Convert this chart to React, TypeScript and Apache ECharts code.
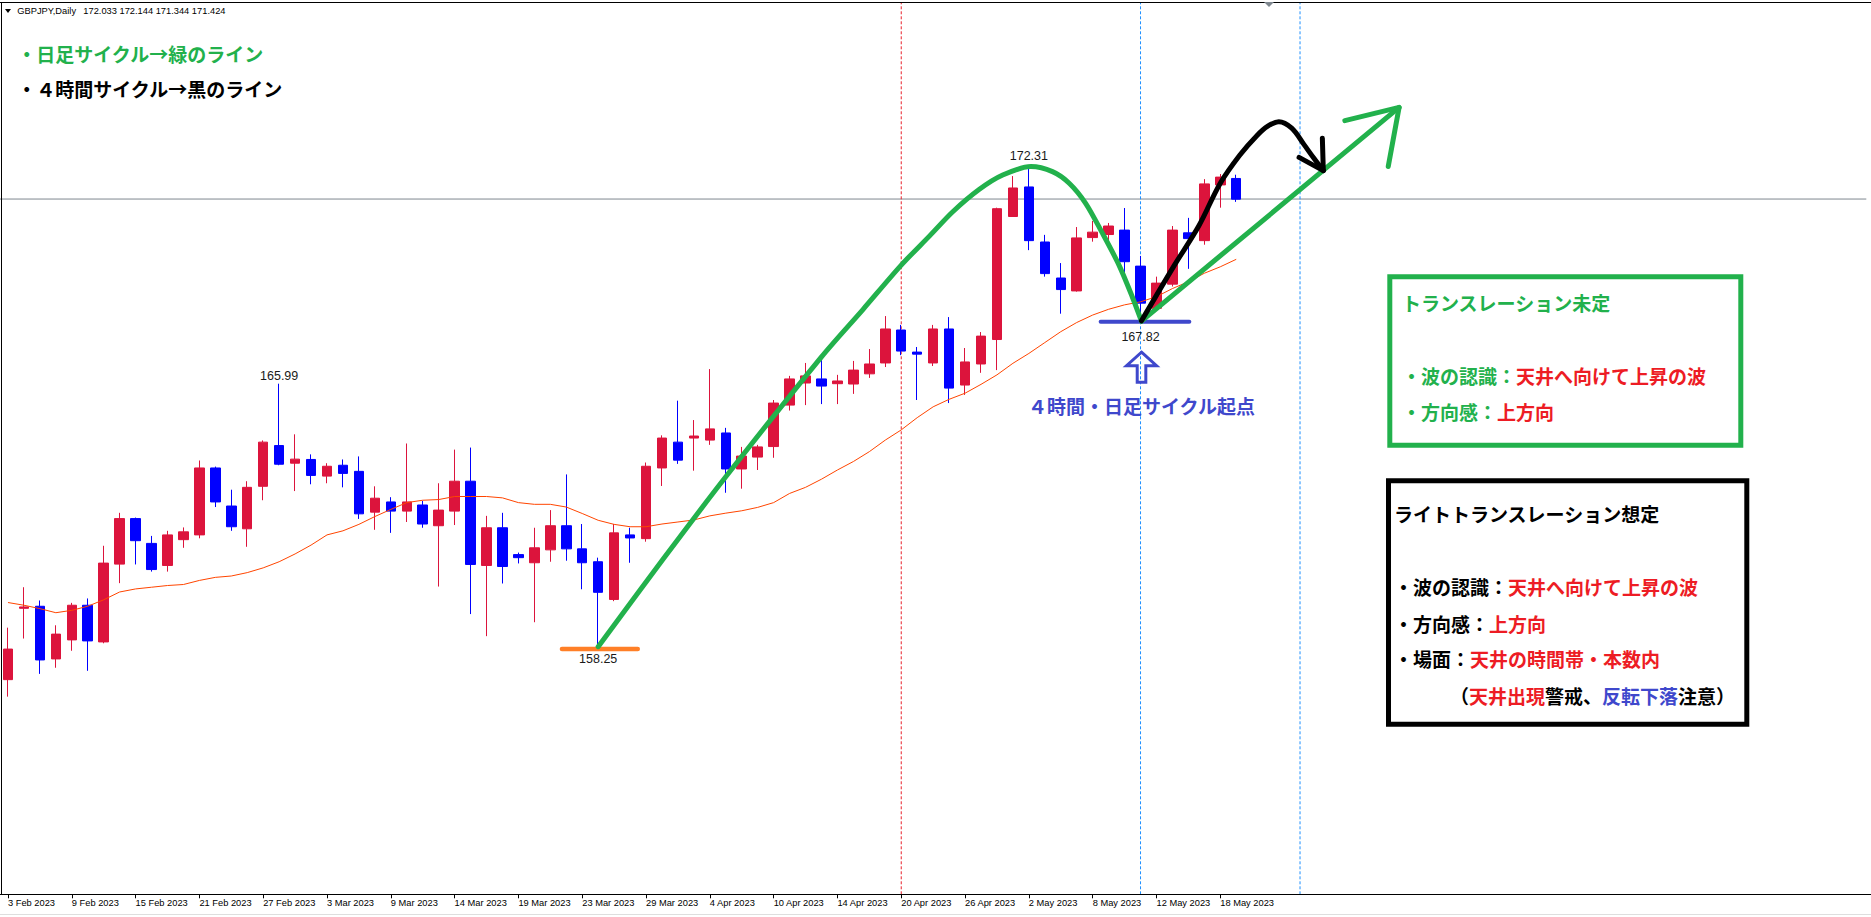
import React, { useEffect, useRef } from "react";
import * as echarts from "echarts";

// ---------- data ----------
const dates = [
  "3 Feb 2023", "6 Feb 2023", "7 Feb 2023", "8 Feb 2023", "9 Feb 2023", "10 Feb 2023", "13 Feb 2023", "14 Feb 2023",
  "15 Feb 2023", "16 Feb 2023", "17 Feb 2023", "20 Feb 2023", "21 Feb 2023", "22 Feb 2023", "23 Feb 2023", "24 Feb 2023",
  "27 Feb 2023", "28 Feb 2023", "1 Mar 2023", "2 Mar 2023", "3 Mar 2023", "6 Mar 2023", "7 Mar 2023", "8 Mar 2023",
  "9 Mar 2023", "10 Mar 2023", "12 Mar 2023", "13 Mar 2023", "14 Mar 2023", "15 Mar 2023", "16 Mar 2023", "17 Mar 2023",
  "19 Mar 2023", "20 Mar 2023", "21 Mar 2023", "22 Mar 2023", "23 Mar 2023", "24 Mar 2023", "27 Mar 2023", "28 Mar 2023",
  "29 Mar 2023", "30 Mar 2023", "31 Mar 2023", "3 Apr 2023", "4 Apr 2023", "5 Apr 2023", "6 Apr 2023", "7 Apr 2023",
  "10 Apr 2023", "11 Apr 2023", "12 Apr 2023", "13 Apr 2023", "14 Apr 2023", "17 Apr 2023", "18 Apr 2023", "19 Apr 2023",
  "20 Apr 2023", "21 Apr 2023", "24 Apr 2023", "25 Apr 2023", "26 Apr 2023", "27 Apr 2023", "28 Apr 2023", "1 May 2023",
  "2 May 2023", "3 May 2023", "4 May 2023", "5 May 2023", "8 May 2023", "9 May 2023", "10 May 2023", "11 May 2023",
  "12 May 2023", "15 May 2023", "16 May 2023", "17 May 2023", "18 May 2023", "19 May 2023",
];

const opens = [
  157.28, 159.38, 159.44, 157.89, 158.45, 159.47, 158.39, 160.68, 162.02, 161.29, 160.64, 161.40, 161.54, 163.51, 162.39, 161.72,
  162.97, 164.17, 163.65, 163.76, 163.27, 163.59, 163.41, 162.21, 162.51, 162.24, 162.42, 161.81, 162.24, 163.12, 160.64, 161.75,
  160.96, 160.72, 161.10, 161.81, 161.13, 160.75, 159.64, 161.54, 161.43, 163.51, 164.27, 164.39, 164.33, 164.54, 163.48, 163.83,
  164.14, 165.36, 166.01, 166.13, 165.99, 165.98, 166.28, 166.60, 167.57, 166.92, 166.60, 167.60, 165.95, 166.57, 167.29, 170.91,
  171.78, 170.16, 169.10, 168.72, 170.29, 170.38, 170.51, 169.45, 168.21, 168.92, 170.43, 170.20, 171.84, 172.03,
];
const highs = [
  158.81, 160.00, 159.61, 158.88, 159.54, 159.67, 161.22, 162.19, 162.05, 161.51, 161.66, 161.76, 163.73, 163.55, 162.87, 163.12,
  164.32, 165.99, 164.50, 163.91, 163.65, 163.76, 163.85, 162.97, 162.65, 164.23, 162.54, 163.06, 164.05, 164.11, 162.10, 162.19,
  161.02, 161.75, 162.27, 163.32, 161.86, 160.87, 161.86, 161.75, 163.67, 164.47, 165.49, 164.92, 166.42, 164.69, 164.13, 164.19,
  165.51, 166.22, 166.60, 166.86, 166.25, 166.66, 167.01, 167.98, 167.72, 167.07, 167.72, 167.95, 167.04, 167.51, 171.17, 172.10,
  172.31, 170.37, 169.54, 170.60, 170.78, 170.72, 171.16, 169.75, 169.14, 170.63, 170.87, 172.01, 172.16, 172.14,
];
const lows = [
  156.78, 158.49, 157.45, 157.63, 158.13, 157.54, 158.35, 160.12, 160.67, 160.46, 160.46, 161.16, 161.44, 162.36, 161.66, 161.19,
  162.56, 163.59, 162.83, 163.03, 163.06, 162.94, 162.01, 161.69, 161.60, 161.92, 161.75, 160.02, 161.83, 159.21, 158.56, 160.11,
  160.70, 158.97, 160.75, 160.78, 159.94, 158.25, 159.59, 160.72, 161.34, 162.98, 163.63, 163.43, 164.19, 162.78, 162.90, 163.45,
  163.81, 165.20, 165.36, 165.39, 165.39, 165.69, 166.16, 166.48, 166.83, 165.51, 166.51, 165.42, 165.66, 166.31, 166.39, 170.91,
  169.92, 169.14, 168.05, 168.70, 170.17, 170.17, 169.14, 167.82, 168.15, 168.85, 169.37, 170.08, 171.17, 171.34,
];
const closes = [
  158.18, 159.42, 157.86, 158.62, 159.47, 158.42, 160.71, 162.02, 161.37, 160.52, 161.54, 161.63, 163.51, 162.51, 161.78, 162.94,
  164.27, 163.62, 163.77, 163.29, 163.56, 163.35, 162.16, 162.62, 162.24, 162.51, 161.86, 162.27, 163.12, 160.67, 161.75, 160.61,
  160.87, 161.16, 161.81, 161.13, 160.72, 159.85, 161.60, 161.45, 163.56, 164.39, 163.74, 164.45, 164.66, 163.48, 163.86, 164.13,
  165.42, 166.13, 166.22, 165.92, 166.07, 166.39, 166.57, 167.60, 166.95, 166.86, 167.60, 165.86, 166.63, 167.39, 171.14, 171.75,
  170.20, 169.23, 168.76, 170.28, 170.45, 170.63, 169.58, 168.36, 168.95, 170.51, 170.26, 171.87, 172.07, 171.42,
];
// orange moving average, read per bar
const movingAverage = [
  159.55, 159.47, 159.37, 159.25, 159.32, 159.44, 159.63, 159.86, 159.95, 160.00, 160.05, 160.08, 160.20, 160.29, 160.33, 160.43,
  160.57, 160.75, 160.98, 161.24, 161.54, 161.66, 161.85, 162.08, 162.29, 162.49, 162.56, 162.58, 162.67, 162.67, 162.67, 162.63,
  162.49, 162.44, 162.44, 162.36, 162.17, 161.97, 161.85, 161.78, 161.78, 161.86, 161.92, 161.98, 162.10, 162.18, 162.25, 162.35,
  162.49, 162.76, 162.94, 163.18, 163.45, 163.70, 163.99, 164.33, 164.63, 164.99, 165.31, 165.53, 165.71, 165.97, 166.25, 166.59,
  166.88, 167.20, 167.52, 167.79, 168.01, 168.18, 168.31, 168.40, 168.55, 168.79, 168.99, 169.24, 169.43, 169.65,
];
const headerSymbol = "GBPJPY,Daily";
const headerValues = ["172.033", "172.144", "171.344", "171.424"];
const lastPrice = 171.424;
const emptyBarsRight = 39;

// marked extremes: bar index, price
const extremeIndex = [17, 37, 64, 71];
const extremePrice = [165.99, 158.25, 172.31, 167.82];
const extremeText = ["165.99", "158.25", "172.31", "167.82"];

// vertical dashed lines (bar index)
const redVLine = 56;
const blueVLines = [71, 81];

// hand-drawn annotation paths, [bar index, price]
const greenCycle: [number, number][] = [
  [37, 158.25], [41.11, 160.85], [45.0, 163.25], [51.0, 166.78], [53.61, 168.18], [56.0, 169.48],
  [57.78, 170.34], [59.23, 171.05], [60.9, 171.71], [62.36, 172.13], [64.13, 172.38], [65.48, 172.23],
  [66.53, 171.89], [67.56, 171.3], [68.61, 170.42], [69.65, 169.48], [70.48, 168.55], [71.06, 167.83],
];
const greenArrowLine: [number, number][] = [[71.06, 167.83], [87.21, 174.12]];
const greenArrowHead: [number, number][] = [[83.81, 173.73], [87.21, 174.12], [86.53, 172.38]];
const blackCycle: [number, number][] = [
  [71.06, 167.84], [73.09, 169.45], [74.65, 170.63], [76.0, 171.89], [77.23, 172.72], [78.29, 173.29],
  [78.98, 173.57], [79.67, 173.7], [80.48, 173.51], [81.23, 173.04], [81.86, 172.63], [82.46, 172.26],
];
const blackArrowHead: [number, number][] = [[82.4, 173.21], [82.46, 172.26], [80.94, 172.65]];
const orangeLowLine: [number, number][] = [[34.73, 158.18], [39.48, 158.18]];
const blueLowLine: [number, number][] = [[68.5, 167.81], [74.06, 167.81]];

// texts
const legendGreen = "・日足サイクル→緑のライン";
const legendBlack = "・４時間サイクル→黒のライン";
const originText = "４時間・日足サイクル起点";

// ---------- styles ----------
const GREEN = "#22B14C";
const RED = "#ED1C24";
const INDIGO = "#3F48CC";
const ORANGE = "#FF7F27";
const BULL = "#DC143C";
const BEAR = "#0000FF";
const MA_COLOR = "#FF4500";
const PRICE_LINE = "#7F878F";
const CJK = "'Noto Sans CJK JP', sans-serif";
const LATIN = "'Liberation Sans', Arial, sans-serif";

export default function App() {
  const ref = useRef<HTMLDivElement>(null);

  useEffect(() => {
    const el = ref.current;
    if (!el) return;
    const chart = echarts.init(el, undefined, { renderer: "svg" });
    const n = dates.length;
    const categories = dates.concat(Array.from({ length: emptyBarsRight }, (_, k) => "slot" + (k + 1)));
    const total = categories.length;
    const showIdx = (i: number) => i < n && i % 4 === 0;
    const yMin = 150.963;
    const yMax = 177.223;

    const lineSeries = (data: any, color: string, width: number, z: number, extra: any = {}) => ({
      type: "line",
      xAxisIndex: 1,
      yAxisIndex: 0,
      data,
      symbol: "none",
      silent: true,
      z,
      lineStyle: { color, width, cap: "round", join: "round", ...(extra.lineStyle || {}) },
      smooth: extra.smooth || false,
    });

    chart.setOption({
      animation: false,
      backgroundColor: "#ffffff",
      grid: { left: -5.7, right: 4.7, top: 2, bottom: 22.7, containLabel: false },
      xAxis: [
        {
          type: "category",
          data: categories,
          boundaryGap: true,
          position: "bottom",
          axisLine: { show: false },
          axisTick: {
            show: true,
            alignWithLabel: true,
            length: 4,
            interval: (i: number) => showIdx(i),
            lineStyle: { color: "#000", width: 1 },
          },
          axisLabel: {
            show: true,
            interval: (i: number) => showIdx(i),
            align: "left",
            margin: 4,
            fontSize: 9.3,
            fontFamily: LATIN,
            color: "#000",
          },
          splitLine: { show: false },
        },
        { type: "value", min: -0.5, max: total - 0.5, show: false, position: "top", splitLine: { show: false } },
      ],
      yAxis: { type: "value", min: yMin, max: yMax, show: false, splitLine: { show: false } },
      series: [
        lineSeries([[-0.5, lastPrice], [total - 0.5, lastPrice]], PRICE_LINE, 1, 1, { lineStyle: { cap: "butt" } }),
        lineSeries([[redVLine, yMin], [redVLine, yMax]], "#E8202A", 1, 1, { lineStyle: { type: [3, 2], cap: "butt" } }),
        ...blueVLines.map((b) =>
          lineSeries([[b, yMin], [b, yMax]], "#1E90FF", 1, 1, { lineStyle: { type: [3, 2], cap: "butt" } })
        ),
        {
          type: "candlestick",
          xAxisIndex: 0,
          yAxisIndex: 0,
          data: dates.map((_, i) => [opens[i], closes[i], lows[i], highs[i]]),
          barWidth: 10,
          silent: true,
          z: 2,
          itemStyle: { color: BULL, color0: BEAR, borderColor: BULL, borderColor0: BEAR, borderWidth: 1 },
        },
        {
          type: "line",
          xAxisIndex: 0,
          yAxisIndex: 0,
          data: movingAverage,
          symbol: "none",
          silent: true,
          z: 3,
          lineStyle: { color: MA_COLOR, width: 1 },
        },
        lineSeries(orangeLowLine, ORANGE, 4.5, 4),
        lineSeries(blueLowLine, INDIGO, 4, 4),
        lineSeries(greenCycle, GREEN, 5, 5, { smooth: 0.3 }),
        lineSeries(greenArrowLine, GREEN, 5, 5),
        lineSeries(greenArrowHead, GREEN, 5, 5),
        lineSeries(blackCycle, "#000000", 5, 6, { smooth: 0.35 }),
        lineSeries(blackArrowHead, "#000000", 5, 6),
      ],
    });

    const toPx = (x: number, y: number) =>
      chart.convertToPixel({ xAxisIndex: 1, yAxisIndex: 0 }, [x, y]) as number[];

    const labelOffsets = [-8, 12.6, -13, 15.5];
    const graphics: any[] = [];

    // frame lines
    const axisY = Math.round(toPx(0, yMin)[1]) + 0.5;
    graphics.push(
      { type: "line", shape: { x1: 0, y1: axisY, x2: 1871, y2: axisY }, style: { stroke: "#000", lineWidth: 1 }, z: 10 },
      { type: "line", shape: { x1: 1.5, y1: 2, x2: 1.5, y2: axisY }, style: { stroke: "#000", lineWidth: 1 }, z: 10 },
      { type: "line", shape: { x1: 0, y1: 2.5, x2: 1871, y2: 2.5 }, style: { stroke: "#000", lineWidth: 1 }, z: 10 },
      { type: "line", shape: { x1: 0, y1: 914.5, x2: 1871, y2: 914.5 }, style: { stroke: "#dedede", lineWidth: 1 }, z: 10 },
      { type: "polygon", shape: { points: [[1264, 2], [1274, 2], [1269, 7]] }, style: { fill: PRICE_LINE }, z: 10 }
    );

    // header
    graphics.push(
      { type: "polygon", shape: { points: [[5, 9], [11, 9], [8, 13]] }, style: { fill: "#000" }, z: 10 },
      {
        type: "text", x: 17.3, y: 11, z: 10,
        style: { text: headerSymbol, fontSize: 9.3, fontFamily: LATIN, fill: "#000", verticalAlign: "middle" },
      },
      {
        type: "text", x: 83.3, y: 11, z: 10,
        style: { text: headerValues.join(" "), fontSize: 9.3, fontFamily: LATIN, fill: "#000", verticalAlign: "middle" },
      }
    );

    // extreme labels
    extremeIndex.forEach((b, k) => {
      const p = toPx(b, extremePrice[k]);
      graphics.push({
        type: "text", x: p[0], y: p[1] + labelOffsets[k], z: 10,
        style: {
          text: extremeText[k], fontSize: 12.5, fontFamily: LATIN, fill: "#1a1a1a",
          align: "center", verticalAlign: "middle",
        },
      });
    });

    // hollow up arrow and origin text below the 167.82 low
    const lowPx = toPx(extremeIndex[3], extremePrice[3]);
    const cx = lowPx[0] + 1;
    const ly = lowPx[1];
    graphics.push(
      {
        type: "polygon", z: 10,
        shape: {
          points: [
            [cx, ly + 30.7], [cx + 15, ly + 44.2], [cx + 4.3, ly + 44.2], [cx + 4.3, ly + 60.7],
            [cx - 4.3, ly + 60.7], [cx - 4.3, ly + 44.2], [cx - 15, ly + 44.2],
          ],
        },
        style: { fill: "transparent", stroke: INDIGO, lineWidth: 3, lineJoin: "miter" },
      },
      {
        type: "text", x: cx, y: ly + 84, z: 10,
        style: {
          text: originText, fontSize: 19, fontWeight: "bold", fontFamily: CJK, fill: INDIGO,
          align: "center", verticalAlign: "middle",
        },
      }
    );

    const cjkText = (x: number, y: number, text: string, fill: string) => ({
      type: "text", x, y, z: 10,
      style: { text, fontSize: 19, fontWeight: "bold", fontFamily: CJK, fill, verticalAlign: "middle" },
    });
    const richText = (x: number, y: number, parts: [string, string][]) => {
      const rich: any = {};
      let text = "";
      parts.forEach(([t, c], k) => {
        rich["p" + k] = { fill: c, fontSize: 19, fontWeight: "bold", fontFamily: CJK };
        text += "{p" + k + "|" + t + "}";
      });
      return {
        type: "text", x, y, z: 10,
        style: { text, rich, fontSize: 19, fontWeight: "bold", fontFamily: CJK, verticalAlign: "middle" },
      };
    };

    // legend lines top-left
    graphics.push(cjkText(17.2, 53, legendGreen, GREEN), cjkText(17.2, 88.3, legendBlack, "#000"));

    // green box
    graphics.push(
      {
        type: "rect", z: 9, shape: { x: 1389.8, y: 276.8, width: 351, height: 168.4 },
        style: { fill: "#fff", stroke: GREEN, lineWidth: 5 },
      },
      cjkText(1402, 302.3, "トランスレーション未定", GREEN),
      richText(1402, 375, [["・波の認識：", GREEN], ["天井へ向けて上昇の波", RED]]),
      richText(1402, 411.7, [["・方向感：", GREEN], ["上方向", RED]])
    );

    // black box
    graphics.push(
      {
        type: "rect", z: 9, shape: { x: 1388.5, y: 480.8, width: 358.3, height: 243.4 },
        style: { fill: "#fff", stroke: "#000", lineWidth: 5 },
      },
      cjkText(1394, 513.3, "ライトトランスレーション想定", "#000"),
      richText(1394, 586.7, [["・波の認識：", "#000"], ["天井へ向けて上昇の波", RED]]),
      richText(1394, 623.3, [["・方向感：", "#000"], ["上方向", RED]]),
      richText(1394, 658.3, [["・場面：", "#000"], ["天井の時間帯・本数内", RED]]),
      richText(1450, 695, [
        ["（", "#000"], ["天井出現", RED], ["警戒、", "#000"], ["反転下落", INDIGO], ["注意）", "#000"],
      ])
    );

    chart.setOption({ graphic: graphics });

    return () => chart.dispose();
  }, []);

  return (
    <div
      ref={ref}
      style={{ position: "fixed", left: 0, top: 0, width: 1871, height: 917, background: "#ffffff" }}
    />
  );
}
